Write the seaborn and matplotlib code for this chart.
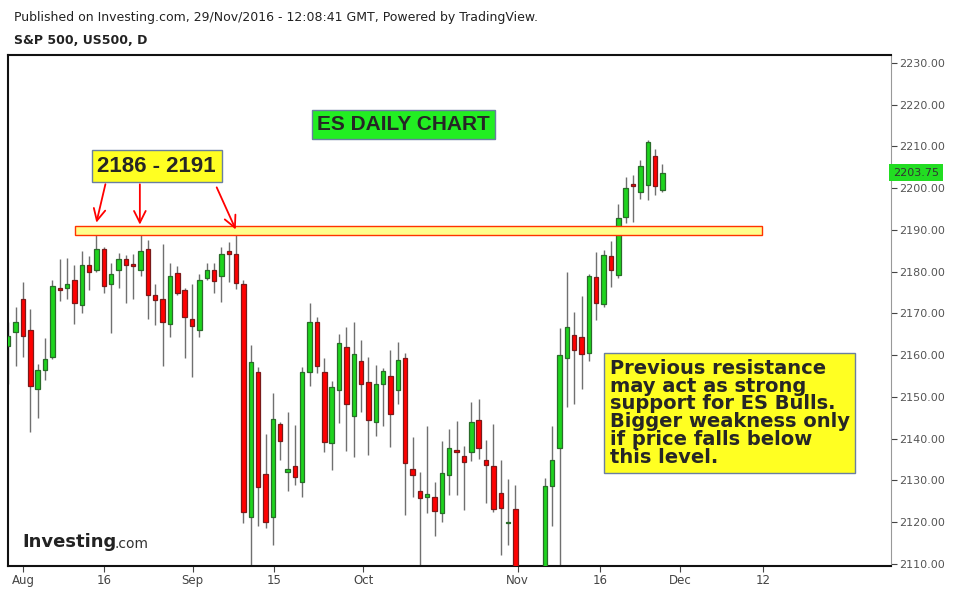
import numpy as np
import pandas as pd
import seaborn as sns
import matplotlib
matplotlib.use("Agg")
import matplotlib.pyplot as plt
from matplotlib.patches import Rectangle

# ---- data (ES daily, 28 Jul - 29 Nov 2016, trading-day index) ----
opens = [2162.2, 2165.5, 2173.5, 2166.0, 2152.0, 2156.5, 2159.5, 2176.0, 2176.0, 2178.0,
         2172.0, 2181.5, 2180.5, 2185.5, 2177.0, 2180.5, 2183.0, 2181.6, 2180.5, 2185.5,
         2174.5, 2173.5, 2167.5, 2179.6, 2175.6, 2168.7, 2166.0, 2178.5, 2180.4, 2179.0,
         2184.9, 2184.2, 2177.0, 2121.3, 2155.9, 2131.5, 2121.3, 2143.5, 2131.9, 2133.4,
         2129.6, 2156.0, 2167.9, 2156.0, 2138.9, 2151.6, 2162.0, 2145.4, 2158.5, 2153.5,
         2143.9, 2153.0, 2155.0, 2151.6, 2159.3, 2132.7, 2127.4, 2126.0, 2126.0, 2122.2,
         2131.3, 2137.2, 2135.8, 2136.8, 2144.4, 2134.8, 2133.4, 2126.9, 2119.7, 2123.1,
         2105.0, 2094.0, 2086.0, 2085.0, 2128.6, 2137.7, 2159.3, 2164.8, 2164.3, 2160.6,
         2178.7, 2172.2, 2183.7, 2179.1, 2193.0, 2201.0, 2199.0, 2200.7, 2207.7, 2199.5]
highs = [2168.0, 2171.5, 2177.5, 2171.0, 2158.0, 2164.0, 2178.0, 2183.0, 2183.3, 2181.5,
         2185.0, 2183.7, 2190.4, 2186.0, 2182.0, 2184.5, 2184.0, 2184.2, 2190.5, 2187.6,
         2177.0, 2186.6, 2182.0, 2181.3, 2176.0, 2177.0, 2179.5, 2182.0, 2182.0, 2186.0,
         2187.0, 2189.2, 2178.0, 2162.4, 2157.1, 2141.0, 2151.0, 2144.0, 2146.4, 2143.3,
         2157.1, 2172.5, 2169.2, 2159.3, 2153.8, 2165.0, 2166.8, 2168.0, 2163.6, 2159.6,
         2157.7, 2156.9, 2161.3, 2163.2, 2160.5, 2140.4, 2132.0, 2143.1, 2129.7, 2139.5,
         2142.4, 2144.3, 2138.3, 2148.8, 2149.6, 2139.6, 2143.5, 2134.9, 2130.4, 2129.0,
         2108.0, 2099.0, 2091.0, 2130.5, 2143.0, 2166.5, 2180.0, 2170.4, 2174.2, 2179.4,
         2184.7, 2185.2, 2187.4, 2196.2, 2202.6, 2203.2, 2206.8, 2211.5, 2209.4, 2205.8]
lows = [2153.0, 2157.5, 2159.5, 2141.5, 2145.0, 2154.0, 2159.0, 2173.0, 2173.5, 2167.5,
        2170.0, 2175.5, 2180.0, 2175.0, 2165.4, 2176.0, 2172.5, 2173.5, 2179.0, 2168.6,
        2167.3, 2157.3, 2164.4, 2174.5, 2159.4, 2154.8, 2164.3, 2178.0, 2175.0, 2172.8,
        2177.5, 2175.8, 2119.7, 2109.8, 2119.0, 2118.5, 2114.5, 2135.0, 2127.5, 2128.8,
        2126.1, 2152.5, 2155.8, 2136.7, 2132.5, 2143.8, 2137.0, 2135.5, 2146.5, 2136.0,
        2140.7, 2143.1, 2137.9, 2148.4, 2121.6, 2126.1, 2109.6, 2122.2, 2116.6, 2120.0,
        2126.4, 2126.6, 2123.0, 2134.6, 2135.1, 2124.7, 2122.4, 2112.2, 2114.6, 2098.0,
        2090.0, 2083.0, 2078.0, 2083.0, 2119.0, 2030.0, 2147.7, 2148.3, 2152.0, 2158.5,
        2168.4, 2171.6, 2176.4, 2178.4, 2191.6, 2191.8, 2197.5, 2197.2, 2198.3, 2199.1]
closes = [2164.5, 2168.0, 2164.5, 2152.5, 2156.5, 2159.0, 2176.5, 2175.5, 2177.0, 2172.5,
          2181.5, 2180.0, 2185.5, 2176.5, 2179.5, 2183.0, 2181.5, 2181.4, 2185.0, 2174.5,
          2173.2, 2168.0, 2179.0, 2174.8, 2169.1, 2167.0, 2178.0, 2180.4, 2177.7, 2184.2,
          2184.2, 2177.2, 2122.4, 2158.3, 2128.4, 2120.0, 2144.7, 2139.5, 2132.7, 2130.7,
          2156.0, 2167.9, 2157.5, 2139.3, 2152.3, 2162.9, 2148.2, 2160.3, 2153.0, 2144.4,
          2153.0, 2156.2, 2146.0, 2158.8, 2134.1, 2131.3, 2125.9, 2126.7, 2122.6, 2131.7,
          2137.7, 2136.8, 2134.4, 2144.0, 2137.7, 2133.7, 2123.1, 2123.3, 2119.8, 2104.0,
          2094.0, 2085.0, 2082.0, 2128.6, 2135.0, 2160.0, 2166.8, 2161.2, 2160.2, 2179.0,
          2172.4, 2183.9, 2180.4, 2192.8, 2200.0, 2200.5, 2205.3, 2211.0, 2200.5, 2203.6]
tick_pos = [2, 13, 25.1, 36.2, 48.3, 69.3, 80.5, 91.4, 102.7]
tick_labels = ["Aug", "16", "Sep", "15", "Oct", "Nov", "16", "Dec", "12"]
price_ticks = [2110, 2120, 2130, 2140, 2150, 2160, 2170, 2180, 2190, 2200, 2210, 2220, 2230]
zone_low, zone_high = 2188.8, 2191.0
zone_start, zone_end = 9.1, 102.5
last_price = 2203.75

df = pd.DataFrame({"open": opens, "high": highs, "low": lows, "close": closes})
df["i"] = np.arange(len(df))
df["up"] = df["close"] >= df["open"]

sns.set_theme(style="white")
fig = plt.figure(figsize=(9.55, 5.91), dpi=100)
ax = fig.add_axes([8/955, 25/591, (891-8)/955, (566-55)/591])

GREEN, RED = "#1ed41e", "#ff0000"
ax.vlines(df["i"], df["low"], df["high"], color="#707070", lw=1, zorder=2)
for up, col, ec in [(True, GREEN, "#2a6b2a"), (False, RED, "#7a1a1a")]:
    d = df[df["up"] == up]
    bottom = np.minimum(d["open"], d["close"])
    height = np.maximum(np.abs(d["close"] - d["open"]), 0.35)
    ax.bar(d["i"], height, bottom=bottom, width=0.6, color=col, edgecolor=ec,
           linewidth=0.9, zorder=3)

ax.add_patch(Rectangle((zone_start, zone_low), zone_end - zone_start, zone_high - zone_low,
                       facecolor="#ffff8c", edgecolor="#ff3300", lw=1, zorder=4))

ax.set_xlim(-0.04, 120.1)
ax.set_ylim(2109.5, 2231.9)
ax.yaxis.tick_right()
ax.set_yticks(price_ticks)
ax.set_yticklabels([f"{v:.2f}" for v in price_ticks], fontsize=8, color="#555555")
ax.set_xticks(tick_pos)
ax.set_xticklabels(tick_labels, fontsize=8.5, color="#444444")
ax.tick_params(axis="both", length=4, width=0.8, color="#444444", pad=2, direction="out")
ax.tick_params(axis="x", bottom=True)
ax.tick_params(axis="y", right=True)
for s in ["left", "bottom", "top"]:
    ax.spines[s].set_color("#111111"); ax.spines[s].set_linewidth(1.5)
ax.spines["right"].set_color("#999999"); ax.spines["right"].set_linewidth(0.8)
ax.grid(False)

ax.text(1.002, last_price, f"{last_price:.2f}", transform=ax.get_yaxis_transform(),
        fontsize=8, va="center", ha="left", color="#333333",
        bbox=dict(boxstyle="square,pad=0.35", fc="#22dd22", ec="none"))

ax.text(53.8, 2215.2, "ES DAILY CHART", fontsize=15, fontweight="bold", ha="center",
        va="center", family="Liberation Sans",
        bbox=dict(boxstyle="square,pad=0.25", fc="#22ee22", ec="#6a7fa0", lw=1), zorder=6)
ax.text(20.2, 2205.3, "2186 - 2191", fontsize=16, fontweight="bold", ha="center",
        va="center", family="Liberation Sans",
        bbox=dict(boxstyle="square,pad=0.25", fc="#ffff22", ec="#6a7fa0", lw=1), zorder=6)
for tx, ty, hx, hy in [(13.3, 2201.6, 11.9, 2191.1), (17.9, 2201.6, 17.9, 2190.6),
                       (28.2, 2200.8, 31.1, 2189.5)]:
    ax.annotate("", xy=(hx, hy), xytext=(tx, ty),
                arrowprops=dict(arrowstyle="->,head_length=0.7,head_width=0.35",
                                color="#ff0000", lw=1.3), zorder=6)
ax.text(81.8, 2146.2,
        "Previous resistance\nmay act as strong\nsupport for ES Bulls.\nBigger weakness only\nif price falls below\nthis level.",
        fontsize=14, fontweight="bold", ha="left", va="center", linespacing=0.92,
        bbox=dict(boxstyle="square,pad=0.3", fc="#ffff22", ec="#6a7fa0", lw=1), zorder=6)

ax.text(0.016, 0.03, "Investing", transform=ax.transAxes, fontsize=13, fontweight="bold",
        color="#222222", ha="left", va="bottom", zorder=6)
ax.text(0.121, 0.03, ".com", transform=ax.transAxes, fontsize=10, color="#333333",
        ha="left", va="bottom", zorder=6)
fig.text(14/955, 1 - 17/591, "Published on Investing.com, 29/Nov/2016 - 12:08:41 GMT, Powered by TradingView.",
         fontsize=9, color="#222222", va="center")
fig.text(14/955, 1 - 41/591, "S&P 500, US500, D", fontsize=9, fontweight="bold",
         color="#222222", va="center")

fig.savefig("out.png", dpi=100, facecolor="white")
